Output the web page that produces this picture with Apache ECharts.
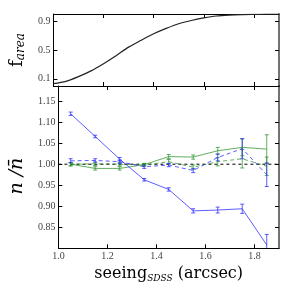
<!DOCTYPE html>
<html><head><meta charset="utf-8">
<script src="https://cdn.jsdelivr.net/npm/echarts@6/dist/echarts.min.js"></script>
<style>html,body{margin:0;padding:0;background:#fff}#c{width:289px;height:289px}</style>
</head><body><div id="c"></div>
<script>
// ---- data ----
const areaX = [1.00,1.05,1.10,1.15,1.20,1.25,1.30,1.35,1.40,1.45,1.50,1.55,1.60,1.65,1.70,1.75,1.80,1.85,1.90];
const areaF = [0.032,0.065,0.13,0.21,0.31,0.42,0.54,0.635,0.725,0.80,0.865,0.91,0.945,0.972,0.985,0.992,0.995,0.997,0.998];

const seeingX = [1.05,1.15,1.25,1.35,1.45,1.55,1.65,1.75,1.85];
const blueSolid    = [1.120,1.066,1.012,0.963,0.940,0.889,0.891,0.894,0.808];
const blueSolidErr = [0.004,0.003,0.004,0.003,0.004,0.005,0.007,0.011,0.025];
const greenSolid    = [1.000,0.990,0.990,0.999,1.018,1.017,1.032,1.040,1.036];
const greenSolidErr = [0.004,0.004,0.004,0.003,0.005,0.005,0.008,0.020,0.034];
const blueDash    = [1.008,1.009,1.006,0.994,0.998,0.985,1.016,1.037,0.975];
const blueDashErr = [0.005,0.004,0.004,0.004,0.004,0.005,0.008,0.024,0.028];
const greenDash    = [1.000,1.001,1.000,0.998,1.006,0.993,1.006,1.013,0.995];
const greenDashErr = [0.004,0.004,0.004,0.003,0.005,0.005,0.010,0.022,0.022];

const topYTicks = [0.1,0.5,0.9];
const botYTicks = [0.85,0.90,0.95,1.00,1.05,1.10,1.15];
const xTicks = [1.0,1.2,1.4,1.6,1.8];

// ---- styles ----
const BLUE = 'rgba(40,40,255,0.75)';
const GREEN = 'rgba(30,140,30,0.7)';
const FONT = 'Liberation Serif';
const NFONT = 'DejaVu Serif';

const chart = echarts.init(document.getElementById('c'), null, {renderer:'canvas'});

function pairs(xs, ys){ return xs.map((x,i)=>[x, ys[i]]); }

function xAx(grid, pos, labels){
  return {
    type:'value', gridIndex:grid, position:pos, min:1.0, max:1.9,
    axisLine:{show:true, onZero:false, lineStyle:{color:'#000', width:1}},
    axisTick:{show:true, inside:true, length:4, customValues:xTicks, lineStyle:{color:'#000'}},
    axisLabel:{show:labels, customValues:xTicks, formatter:v=>v.toFixed(1), fontFamily:FONT, fontSize:10, color:'#444', margin:3},
    splitLine:{show:false}
  };
}
function yAx(grid, pos, min, max, ticks, dec, labels){
  return {
    type:'value', gridIndex:grid, position:pos, min:min, max:max,
    axisLine:{show:true, onZero:false, lineStyle:{color: pos==='right' ? 'rgba(0,0,0,0.55)' : '#000', width: pos==='right' ? 2 : 1}},
    axisTick:{show:true, inside:true, length:4, customValues:ticks, lineStyle:{color:'#000'}},
    axisLabel:{show:labels, customValues:ticks, formatter:v=>v.toFixed(dec), fontFamily:FONT, fontSize:10, color:'#444', margin:3},
    splitLine:{show:false}
  };
}

function errSeries(xs, ys, es, color){
  return {
    type:'custom', xAxisIndex:2, yAxisIndex:2, clip:true, z:3,
    data: xs.map((x,i)=>[x, ys[i], es[i]]),
    renderItem: function(params, api){
      const x = api.value(0), y = api.value(1), e = api.value(2);
      const lo = api.coord([x, y-e]), hi = api.coord([x, y+e]);
      const c = 2;
      const st = {stroke:color, lineWidth:1};
      return {type:'group', children:[
        {type:'line', shape:{x1:lo[0], y1:lo[1], x2:hi[0], y2:hi[1]}, style:st},
        {type:'line', shape:{x1:lo[0]-c, y1:lo[1], x2:lo[0]+c, y2:lo[1]}, style:st},
        {type:'line', shape:{x1:hi[0]-c, y1:hi[1], x2:hi[0]+c, y2:hi[1]}, style:st}
      ]};
    }
  };
}
function lineSeries(xs, ys, color, dashed){
  return {
    type:'line', xAxisIndex:2, yAxisIndex:2, data:pairs(xs, ys), showSymbol:false, symbol:'none',
    lineStyle:{color:color, width:1, type: dashed ? [4,3] : 'solid'}, itemStyle:{color:color}, z:3, animation:false
  };
}

const xName = {
  ...xAx(1,'bottom',true),
  name:'{a|seeing}{b|SDSS}{a| (arcsec)}', nameLocation:'middle', nameGap:11,
  nameTextStyle:{verticalAlign:'top', rich:{
    a:{fontFamily:NFONT, fontSize:16, color:'#000'},
    b:{fontFamily:NFONT, fontSize:9, fontStyle:'italic', color:'#000', padding:[8,0,0,0]}
  }}
};

const yTop = {
  ...yAx(0,'left',0,1,topYTicks,1,true),
  name:'{a|f}{b|area}', nameLocation:'middle', nameGap:20,
  nameTextStyle:{rich:{
    a:{fontFamily:NFONT, fontSize:18, color:'#000'},
    b:{fontFamily:NFONT, fontSize:12, fontStyle:'italic', color:'#000', padding:[8,0,0,0]}
  }}
};
const yBot = {
  ...yAx(1,'left',0.8,1.186,botYTicks,2,true),
  name:'n /n\u0304', nameLocation:'middle', nameGap:19,
  nameTextStyle:{fontFamily:NFONT, fontSize:19, fontStyle:'italic', color:'#000', padding:[0,18,0,0]}
};

chart.setOption({
  animation:false,
  backgroundColor:'#fff',
  grid:[
    {left:40, right:10, top:14, height:72},
    {left:40, right:10, top:86, height:162.3}
  ],
  xAxis:[ xAx(0,'bottom',false), xAx(0,'top',false), xName, xAx(1,'top',false) ],
  yAxis:[ yTop, yAx(0,'right',0,1,topYTicks,1,false), yBot, yAx(1,'right',0.8,1.186,botYTicks,2,false) ],
  series:[
    {type:'line', xAxisIndex:0, yAxisIndex:0, data:pairs(areaX, areaF), smooth:0.3, showSymbol:false, symbol:'none',
     lineStyle:{color:'#222', width:1.2}},
    {type:'line', xAxisIndex:2, yAxisIndex:2, data:[[1.0,1.0],[1.9,1.0]], showSymbol:false, symbol:'none',
     lineStyle:{color:'#000', width:1, type:[3,3]}, z:2},
    lineSeries(seeingX, greenSolid, GREEN, false),
    lineSeries(seeingX, greenDash, GREEN, true),
    lineSeries(seeingX, blueSolid, BLUE, false),
    lineSeries(seeingX, blueDash, BLUE, true),
    errSeries(seeingX, greenSolid, greenSolidErr, GREEN),
    errSeries(seeingX, greenDash, greenDashErr, GREEN),
    errSeries(seeingX, blueSolid, blueSolidErr, BLUE),
    errSeries(seeingX, blueDash, blueDashErr, BLUE)
  ]
});
</script></body></html>
